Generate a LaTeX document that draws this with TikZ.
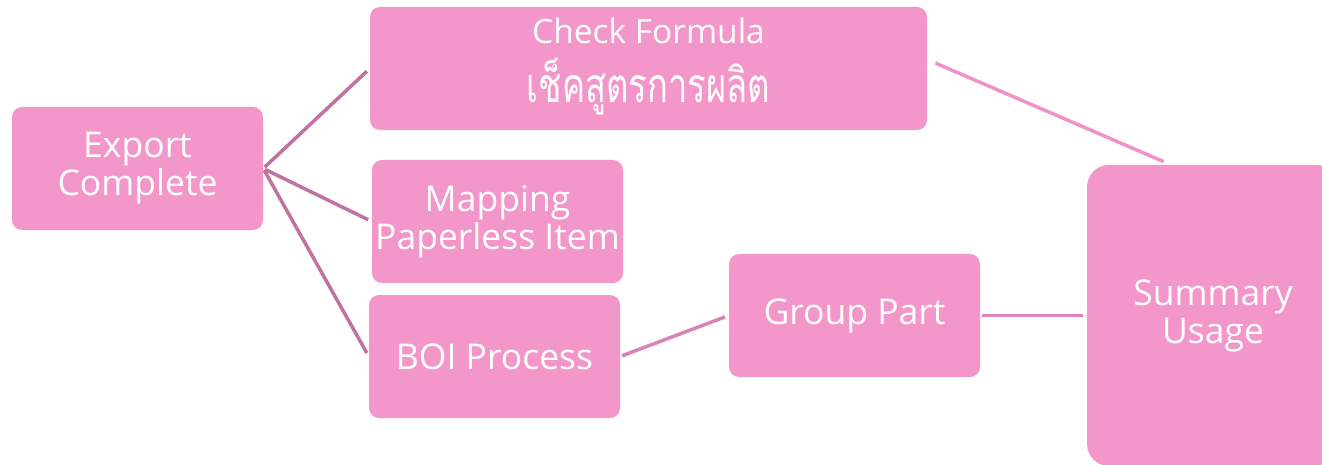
\documentclass[tikz,border=0pt]{standalone}
\usepackage{fontspec}
\setmainfont{Open Sans}
\newfontfamily\thaifont[Script=Thai,FakeStretch=0.72]{Loma}
\usetikzlibrary{calc}
\definecolor{boxpink}{HTML}{F396C9}
\definecolor{mauve}{HTML}{C2729F}
\definecolor{midpink}{HTML}{D983B6}
\definecolor{linkpink}{HTML}{E382BA}
\definecolor{lightpink}{HTML}{EE92C8}
\tikzset{
  boxnode/.style={fill=boxpink, draw=none, rounded corners=10pt, text=white,
    align=center, inner sep=0pt, font=\fontsize{35.5}{38}\selectfont},
  link/.style={line width=3.5pt, shorten >=4pt, shorten <=2pt},
}
\begin{document}
\begin{tikzpicture}[x=1pt,y=-1pt]
\useasboundingbox (0,0) rectangle (1322,465);
\clip (0,0) rectangle (1322,465);
\node[boxnode, minimum width=251pt, minimum height=123pt] (export) at (137.5,168.5) {Export\\Complete};
\node[boxnode, minimum width=557pt, minimum height=123pt] (check) at (648.5,68.5) {};
\node[text=white, inner sep=0pt, anchor=base, font=\fontsize{33.5}{38}\selectfont] (checktxt) at (648.5,44) {Check Formula};
\node[text=white, inner sep=0pt, anchor=base, font=\thaifont\fontsize{48}{50}\selectfont] (checkthai) at (648.5,103) {เช็คสูตรการผลิต};
\node[boxnode, minimum width=251pt, minimum height=123pt] (mapping) at (497.5,221.5) {Mapping\\Paperless Item};
\node[boxnode, minimum width=251pt, minimum height=123pt] (boi) at (494.5,356.5) {BOI Process};
\node[boxnode, minimum width=251pt, minimum height=123pt] (group) at (854.5,315.5) {Group Part};
\node[boxnode, minimum width=252pt, minimum height=301pt, rounded corners=22pt] (summary) at (1213,315.5) {Summary\\Usage};
\draw[link, mauve] (export.east) -- (check.west);
\draw[link, mauve] (export.east) -- (mapping.west);
\draw[link, mauve] (export.east) -- (boi.west);
\draw[link, midpink] (boi.east) -- (group.west);
\draw[link, linkpink] (group.east) -- (summary.west);
\draw[link, lightpink, shorten <=9pt, shorten >=8pt] ($(check.east)+(0,-9)$) -- ($(summary.north)+(-42,0)$);
\end{tikzpicture}
\end{document}
